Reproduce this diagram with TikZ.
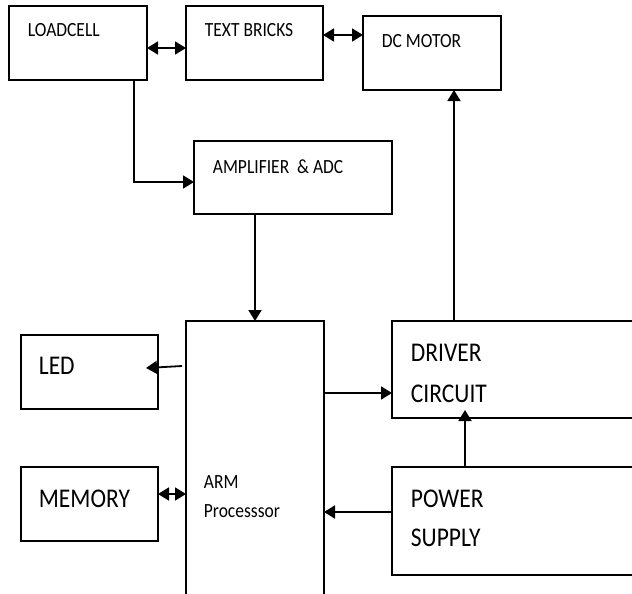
\documentclass[tikz,border=0pt]{standalone}
\usepackage{fontspec}
\setmainfont{Carlito}
\usepackage{tikz}
\usetikzlibrary{arrows.meta, positioning}

\begin{document}
\begin{tikzpicture}[x=1pt, y=-1pt, line width=1.8pt,
    blk/.style={draw, rectangle, inner sep=0pt, outer sep=0pt},
    txt/.style={anchor=base west, inner sep=0pt, yscale=1.15, transform shape, font=\fontsize{17.5}{21}\selectfont},
    bigtxt/.style={anchor=base west, inner sep=0pt, yscale=1.15, transform shape, font=\fontsize{23.5}{28}\selectfont},
    arr/.style={-{Triangle[length=11pt, width=13pt]}},
    dbl/.style={{Triangle[length=11pt, width=13pt]}-{Triangle[length=11pt, width=13pt]}}]
    \useasboundingbox (0,0) rectangle (632,594);
    \clip (0,0) rectangle (632,594);
    \node[blk, minimum width=138pt, minimum height=74pt] (load) at (78,43) {};
    \node[blk, minimum width=137pt, minimum height=74pt] (bricks) at (254.5,43) {};
    \node[blk, minimum width=138pt, minimum height=74pt] (motor) at (432,53) {};
    \node[blk, minimum width=198pt, minimum height=73pt] (amp) at (293,177.5) {};
    \node[blk, minimum width=138pt, minimum height=278pt] (arm) at (255,460) {};
    \node[blk, minimum width=137pt, minimum height=74pt] (led) at (89.5,372) {};
    \node[blk, minimum width=137pt, minimum height=74pt] (mem) at (89.5,504) {};
    \node[blk, minimum width=248pt, minimum height=97pt] (drv) at (516,369.5) {};
    \node[blk, minimum width=248pt, minimum height=108pt] (pwr) at (516,521) {};
    \node[txt] (loadtxt) at (27,37) {LOADCELL};
    \node[txt] (brickstxt) at (204,37) {TEXT BRICKS};
    \node[txt] (motortxt) at (381,48) {DC MOTOR};
    \node[txt] (amptxt) at (212,173) {AMPLIFIER \ \& ADC};
    \node[txt] (armtxt) at (203,488) {ARM};
    \node[txt] (proctxt) at (203,517) {Processsor};
    \node[bigtxt] (ledtxt) at (38,374) {LED};
    \node[bigtxt] (memtxt) at (38,507) {MEMORY};
    \node[bigtxt] (drvtxt) at (410,361) {DRIVER};
    \node[bigtxt] (circtxt) at (410,402) {CIRCUIT};
    \node[bigtxt] (pwrtxt) at (410,507) {POWER};
    \node[bigtxt] (suptxt) at (410,546) {SUPPLY};
    \draw[dbl] ([yshift=-5pt]load.east) -- ([yshift=-5pt]load.east -| bricks.west);
    \draw[dbl] ([yshift=8pt]bricks.east) -- ([yshift=8pt]bricks.east -| motor.west);
    \draw[arr] ([xshift=56pt]load.south) |- ([yshift=-4.5pt]amp.west);
    \draw[arr] (amp.south -| arm.north) -- (arm.north);
    \draw[arr] ([xshift=-4pt, yshift=6pt]arm.west |- led.east) -- ([xshift=-12pt, yshift=4pt]led.east);
    \draw[dbl] ([yshift=10pt]mem.east) -- ([yshift=10pt]mem.east -| arm.west);
    \draw[arr] ([yshift=-23.5pt]drv.west -| arm.east) -- ([yshift=-23.5pt]drv.west);
    \draw[arr] ([xshift=22pt]motor.south |- drv.north) -- ([xshift=22pt]motor.south);
    \draw[arr] ([xshift=-51pt]pwr.north) -- ([xshift=-51pt, yshift=8pt]drv.south);
    \draw[arr] ([yshift=9pt]pwr.west) -- ([yshift=9pt]pwr.west -| arm.east);
\end{tikzpicture}
\end{document}
